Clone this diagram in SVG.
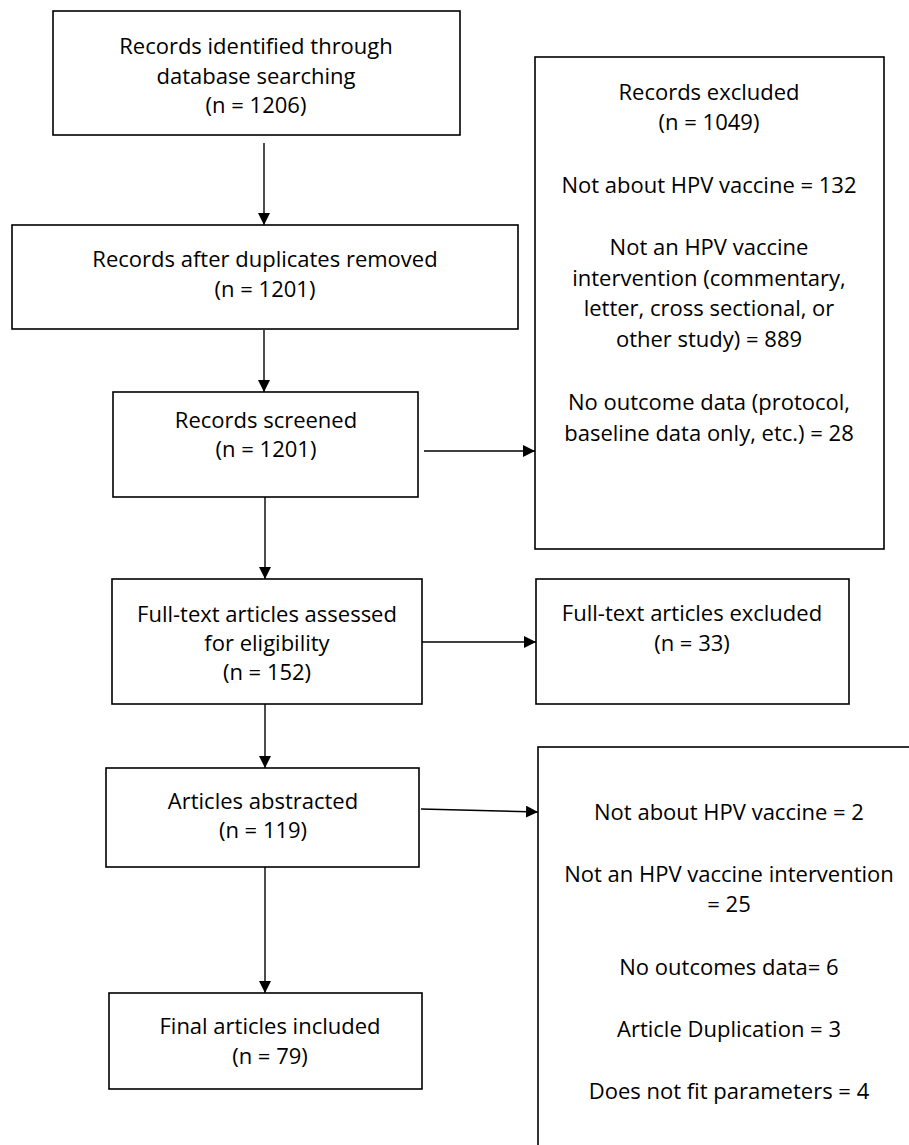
<svg xmlns="http://www.w3.org/2000/svg" width="909" height="1145" viewBox="0 0 909 1145">
<style>
.box{fill:#fff;stroke:#000;stroke-width:1.6}
.t{font-family:"Open Sans","Liberation Sans",sans-serif;font-size:22px;fill:#000;text-anchor:middle}
.c{stroke:#000;stroke-width:1.4;fill:none;marker-end:url(#ah)}
</style>
<defs>
<marker id="ah" markerUnits="userSpaceOnUse" markerWidth="12" markerHeight="12" refX="12" refY="6" orient="auto">
<path d="M0,0 L12,6 L0,12 z" fill="#000"/>
</marker>
</defs>
<rect width="909" height="1145" fill="#fff"/>
<g id="connectors">
<line class="c" x1="264" y1="143" x2="264" y2="225"/>
<line class="c" x1="264" y1="330" x2="264" y2="392"/>
<line class="c" x1="265" y1="497" x2="265" y2="579"/>
<line class="c" x1="265" y1="704" x2="265" y2="768"/>
<line class="c" x1="265" y1="867" x2="265" y2="993"/>
<line class="c" x1="424" y1="451" x2="535" y2="451"/>
<line class="c" x1="422" y1="642" x2="536" y2="642"/>
<line class="c" x1="421" y1="809" x2="538" y2="812"/>
</g>
<g id="identified">
<rect class="box" x="53" y="11" width="407" height="124"/>
<text class="t" x="256" y="54">Records identified through</text>
<text class="t" x="256" y="83.5">database searching</text>
<text class="t" x="256" y="113">(n = 1206)</text>
</g>
<g id="duplicates">
<rect class="box" x="12" y="225" width="506" height="104"/>
<text class="t" x="265" y="267">Records after duplicates removed</text>
<text class="t" x="265" y="297">(n = 1201)</text>
</g>
<g id="screened">
<rect class="box" x="113" y="392" width="305" height="105"/>
<text class="t" x="266" y="428">Records screened</text>
<text class="t" x="266" y="457">(n = 1201)</text>
</g>
<g id="excluded1">
<rect class="box" x="535" y="57" width="349" height="492"/>
<text class="t" x="709" y="100">Records excluded</text>
<text class="t" x="709" y="130">(n = 1049)</text>
<text class="t" x="709" y="193">Not about HPV vaccine = 132</text>
<text class="t" x="709" y="255">Not an HPV vaccine</text>
<text class="t" x="709" y="286">intervention (commentary,</text>
<text class="t" x="709" y="316">letter, cross sectional, or</text>
<text class="t" x="709" y="347">other study) = 889</text>
<text class="t" x="709" y="410">No outcome data (protocol,</text>
<text class="t" x="709" y="441">baseline data only, etc.) = 28</text>
</g>
<g id="fulltext">
<rect class="box" x="112" y="579" width="310" height="125"/>
<text class="t" x="267" y="622">Full-text articles assessed</text>
<text class="t" x="267" y="651">for eligibility</text>
<text class="t" x="267" y="680">(n = 152)</text>
</g>
<g id="excluded2">
<rect class="box" x="536" y="579" width="313" height="125"/>
<text class="t" x="692" y="621">Full-text articles excluded</text>
<text class="t" x="692" y="651">(n = 33)</text>
</g>
<g id="abstracted">
<rect class="box" x="106" y="768" width="313" height="99"/>
<text class="t" x="263" y="809">Articles abstracted</text>
<text class="t" x="263" y="838">(n = 119)</text>
</g>
<g id="excluded3">
<rect class="box" x="538" y="747" width="420" height="450"/>
<text class="t" x="729" y="820">Not about HPV vaccine = 2</text>
<text class="t" x="729" y="882">Not an HPV vaccine intervention</text>
<text class="t" x="729" y="912">= 25</text>
<text class="t" x="729" y="975">No outcomes data= 6</text>
<text class="t" x="729" y="1037">Article Duplication = 3</text>
<text class="t" x="729" y="1099">Does not fit parameters = 4</text>
</g>
<g id="included">
<rect class="box" x="109" y="993" width="313" height="96"/>
<text class="t" x="270" y="1034">Final articles included</text>
<text class="t" x="270" y="1064">(n = 79)</text>
</g>
</svg>
